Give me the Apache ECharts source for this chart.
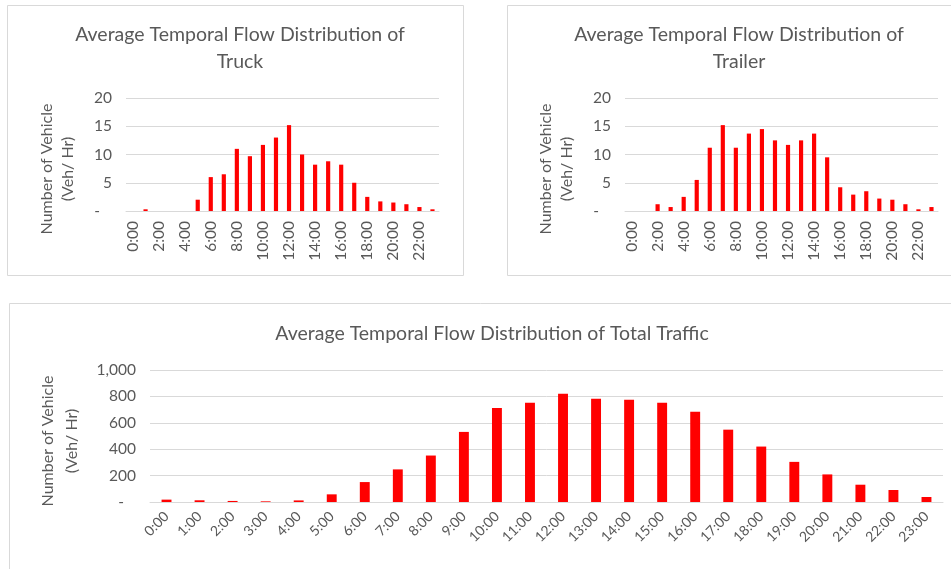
<!DOCTYPE html>
<html>
<head>
<meta charset="utf-8">
<script src="https://cdn.jsdelivr.net/npm/echarts@6/dist/echarts.min.js"></script>
<style>
html,body{margin:0;padding:0;background:#fff;}
#c{width:951px;height:569px;}
</style>
</head>
<body>
<div id="c"></div>
<script>
const hours = ['0:00','1:00','2:00','3:00','4:00','5:00','6:00','7:00','8:00','9:00','10:00','11:00','12:00','13:00','14:00','15:00','16:00','17:00','18:00','19:00','20:00','21:00','22:00','23:00'];
const truckValues = [0, 0.3, 0, 0, 0, 2.0, 6.0, 6.5, 11.0, 9.7, 11.7, 13.0, 15.2, 10.0, 8.2, 8.8, 8.2, 5.0, 2.5, 1.7, 1.5, 1.2, 0.7, 0.3];
const trailerValues = [0, 0, 1.2, 0.7, 2.5, 5.5, 11.2, 15.2, 11.2, 13.7, 14.5, 12.5, 11.7, 12.5, 13.7, 9.5, 4.2, 2.9, 3.5, 2.2, 2.0, 1.2, 0.3, 0.7];
const totalValues = [18, 13, 8, 5, 12, 58, 151, 247, 352, 531, 712, 752, 820, 782, 775, 752, 684, 548, 420, 304, 209, 131, 91, 38];
const smallTicks = [0, 5, 10, 15, 20];
const totalTicks = [0, 200, 400, 600, 800, 1000];

const FONT = 'Lato, "Liberation Sans", sans-serif';
const TXT = '#595959';
const GRID = '#d9d9d9';
const BAR = '#ff0000';
const yName = 'Number of Vehicle\n(Veh/ Hr)';

function yFmt(v){ return v === 0 ? '-   ' : v.toLocaleString('en-US'); }

function yAxisDef(idx, ticks){
  return {
    gridIndex: idx, type: 'value',
    min: ticks[0], max: ticks[ticks.length-1], interval: ticks[1]-ticks[0],
    axisLine: {show: false}, axisTick: {show: false},
    axisLabel: {color: TXT, fontFamily: FONT, fontSize: 15.5, margin: 14, formatter: yFmt},
    splitLine: {lineStyle: {color: GRID, width: 1}}
  };
}
function xAxisDef(idx, rotate, interval, margin, fs){
  return {
    gridIndex: idx, type: 'category', data: hours,
    axisTick: {show: false},
    axisLine: {lineStyle: {color: GRID, width: 1}},
    axisLabel: {color: TXT, fontFamily: FONT, fontSize: fs, rotate: rotate, interval: interval, margin: margin}
  };
}
function nameText(x, y, lh){
  return {type: 'text', x: x, y: y, rotation: Math.PI/2,
    style: {text: yName, fill: TXT, font: '16px ' + FONT, align: 'center', verticalAlign: 'middle', lineHeight: lh}};
}

const chart = echarts.init(document.getElementById('c'), null, {renderer: 'canvas'});
chart.setOption({
  backgroundColor: '#fff',
  animation: false,
  graphic: [
    {type: 'rect', shape: {x: 7.5, y: 5.5, width: 456, height: 270}, style: {fill: 'none', stroke: GRID, lineWidth: 1}},
    {type: 'rect', shape: {x: 507.5, y: 5.5, width: 460, height: 270}, style: {fill: 'none', stroke: GRID, lineWidth: 1}},
    {type: 'rect', shape: {x: 9.5, y: 303.5, width: 960, height: 280}, style: {fill: 'none', stroke: GRID, lineWidth: 1}},
    nameText(57.5, 169, 21),
    nameText(556.5, 169, 21),
    nameText(60, 441, 24)
  ],
  title: [
    {text: 'Average Temporal Flow Distribution of\nTruck', left: 235, top: 16, textAlign: 'center',
     textStyle: {color: TXT, fontFamily: FONT, fontSize: 19.5, fontWeight: 'normal', lineHeight: 27}},
    {text: 'Average Temporal Flow Distribution of\nTrailer', left: 734, top: 16, textAlign: 'center',
     textStyle: {color: TXT, fontFamily: FONT, fontSize: 19.5, fontWeight: 'normal', lineHeight: 27}},
    {text: 'Average Temporal Flow Distribution of Total Traffic', left: 487, top: 319, textAlign: 'center',
     textStyle: {color: TXT, fontFamily: FONT, fontSize: 19.5, fontWeight: 'normal'}}
  ],
  grid: [
    {left: 126, top: 98, width: 313, height: 113, containLabel: false},
    {left: 625, top: 98, width: 313, height: 113, containLabel: false},
    {left: 150, top: 370, width: 793, height: 132, containLabel: false}
  ],
  xAxis: [
    xAxisDef(0, 90, 1, 10, 15.5),
    xAxisDef(1, 90, 1, 10, 15.5),
    xAxisDef(2, 45, 0, 12, 14)
  ],
  yAxis: [
    yAxisDef(0, smallTicks),
    yAxisDef(1, smallTicks),
    yAxisDef(2, totalTicks)
  ],
  series: [
    {type: 'bar', xAxisIndex: 0, yAxisIndex: 0, data: truckValues, barWidth: '32%', itemStyle: {color: BAR}},
    {type: 'bar', xAxisIndex: 1, yAxisIndex: 1, data: trailerValues, barWidth: '32%', itemStyle: {color: BAR}},
    {type: 'bar', xAxisIndex: 2, yAxisIndex: 2, data: totalValues, barWidth: '30%', itemStyle: {color: BAR}}
  ]
});
</script>
</body>
</html>
